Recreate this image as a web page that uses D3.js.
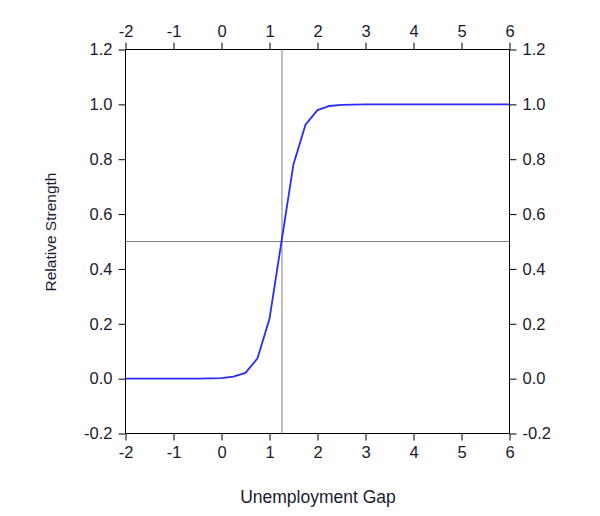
<!DOCTYPE html>
<html><head><meta charset="utf-8">
<script src="https://cdn.jsdelivr.net/npm/d3@7"></script>
<style>body{margin:0;background:#fff;} text{font-family:"Liberation Sans",Arial,sans-serif;fill:#1a1a2e;}</style>
</head><body>
<svg id="c" width="600" height="516"></svg>
<script>
const gapValues = [-2, -1.5, -1, -0.5, 0, 0.25, 0.5, 0.75, 1.0, 1.25, 1.5, 1.75, 2.0, 2.25, 2.5, 3, 4, 5, 6];
const strengthValues = [0, 0, 0, 0.0002, 0.002, 0.007, 0.021, 0.074, 0.218, 0.5, 0.782, 0.926, 0.979, 0.994, 0.998, 1.0, 1.0, 1.0, 1.0];
const xTicks = [-2, -1, 0, 1, 2, 3, 4, 5, 6];
const yTicks = [-0.2, 0.0, 0.2, 0.4, 0.6, 0.8, 1.0, 1.2];
const crossX = 1.26, crossY = 0.5;

const svg = d3.select("#c");
const L = 125.5, R = 509.5, T = 49.5, B = 433.5;
const x = d3.scaleLinear().domain([-2, 6]).range([L, R]);
const y = d3.scaleLinear().domain([-0.2, 1.2]).range([B, T]);
const fx = d => String(d);
const fy = d => d3.format(".1f")(d).replace("\u2212", "-");

function styleAxis(g){
  g.selectAll("path,line").attr("stroke","#000").attr("stroke-width",1);
  g.selectAll("text").style("font-size","16.5px").attr("fill","#1a1a2e");
}
svg.append("g").attr("transform",`translate(0,${B})`)
  .call(d3.axisBottom(x).tickValues(xTicks).tickFormat(fx).tickSizeInner(7).tickSizeOuter(0).tickPadding(6)).call(styleAxis);
svg.append("g").attr("transform",`translate(0,${T})`)
  .call(d3.axisTop(x).tickValues(xTicks).tickFormat(fx).tickSizeInner(7).tickSizeOuter(0).tickPadding(6)).call(styleAxis);
svg.append("g").attr("transform",`translate(${L},0)`)
  .call(d3.axisLeft(y).tickValues(yTicks).tickFormat(fy).tickSizeInner(7).tickSizeOuter(0).tickPadding(6)).call(styleAxis);
svg.append("g").attr("transform",`translate(${R},0)`)
  .call(d3.axisRight(y).tickValues(yTicks).tickFormat(fy).tickSizeInner(7).tickSizeOuter(0).tickPadding(6)).call(styleAxis);
svg.selectAll(".domain").remove();
svg.append("rect").attr("x",L).attr("y",T).attr("width",R-L).attr("height",B-T)
  .attr("fill","none").attr("stroke","#000").attr("stroke-width",1);

// crosshair
svg.append("line").attr("x1",x(crossX)).attr("x2",x(crossX)).attr("y1",T).attr("y2",B)
  .attr("stroke","#808080").attr("stroke-width",1);
svg.append("line").attr("x1",L).attr("x2",R).attr("y1",y(crossY)).attr("y2",y(crossY))
  .attr("stroke","#808080").attr("stroke-width",1);

const data = gapValues.map((g,i)=>({g, s:strengthValues[i]}));
svg.append("path").datum(data)
  .attr("d", d3.line().x(d=>x(d.g)).y(d=>y(d.s)))
  .attr("fill","none").attr("stroke","#2b2bff").attr("stroke-width",1.8);

svg.append("text").attr("x",318).attr("y",503).attr("text-anchor","middle")
  .style("font-size","17.5px").text("Unemployment Gap");
svg.append("text").attr("transform","translate(56,232) rotate(-90)").attr("text-anchor","middle")
  .style("font-size","15.5px").text("Relative Strength");
</script>
</body></html>
